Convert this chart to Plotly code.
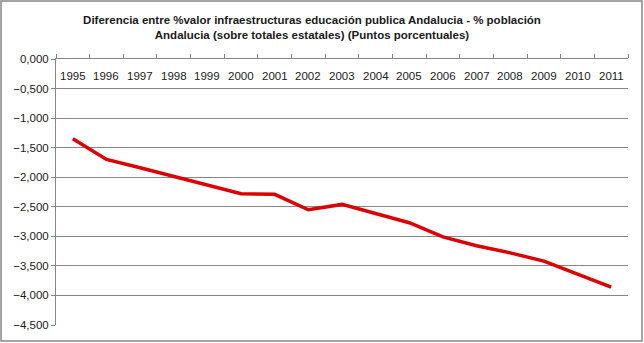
import plotly.graph_objects as go

years = [str(y) for y in range(1995, 2012)]
values = [-1.35, -1.70, -1.84, -1.99, -2.14, -2.28, -2.29, -2.55, -2.46,
          -2.62, -2.77, -3.01, -3.16, -3.28, -3.42, -3.64, -3.86]
y_ticks = [0, -0.5, -1, -1.5, -2, -2.5, -3, -3.5, -4, -4.5]

title_text = ("<b>Diferencia entre %valor infraestructuras educación publica Andalucia - % población<br>"
              "Andalucia (sobre totales estatales) (Puntos porcentuales)</b>")

fig = go.Figure()
fig.add_trace(go.Scatter(x=years, y=values, mode="lines",
                         line=dict(color="#DC0000", width=3.5), showlegend=False))

W, H = 644, 343
ml, mr, mt, mb = 56, 16, 59, 18
pw, ph = W - ml - mr, H - mt - mb

annotations = [dict(x=i, y=0, xref="x", yref="y", text=yr, showarrow=False,
                    yanchor="top", yshift=-9, font=dict(size=11.5, color="#1a1a1a"))
               for i, yr in enumerate(years)]

fig.update_layout(
    width=W, height=H,
    margin=dict(l=ml, r=mr, t=mt, b=mb),
    paper_bgcolor="white", plot_bgcolor="white",
    separators=",.",
    font=dict(family="Liberation Sans, Arial", size=11, color="#1a1a1a"),
    title=dict(text=title_text, x=312 / W, xanchor="center", y=1 - 24 / H, yanchor="middle",
               font=dict(family="Liberation Sans, Arial", size=11.5, color="#1a1a1a"),
               xref="container", yref="container"),
    xaxis=dict(type="category", range=[-0.5, len(years) - 0.5], side="top",
               showticklabels=False,
               tickson="boundaries", ticks="outside", ticklen=4, tickcolor="#868686",
               showline=True, linecolor="#868686", linewidth=1,
               showgrid=False),
    yaxis=dict(range=[-4.5, 0], tickvals=y_ticks, tickformat=".3f",
               ticks="outside", ticklen=4, tickcolor="#868686",
               showline=True, linecolor="#868686", linewidth=1,
               showgrid=True, gridcolor="#868686", gridwidth=1,
               zeroline=False, tickfont=dict(size=11.5, color="#1a1a1a")),
    annotations=annotations,
    shapes=[dict(type="rect", xref="paper", yref="paper",
                 x0=(1 - ml) / pw, x1=(W - 2 - ml) / pw,
                 y0=-(mb - 2) / ph, y1=1 + (mt - 1) / ph,
                 line=dict(color="#868686", width=1.5))],
)

fig.write_html("out.html")
